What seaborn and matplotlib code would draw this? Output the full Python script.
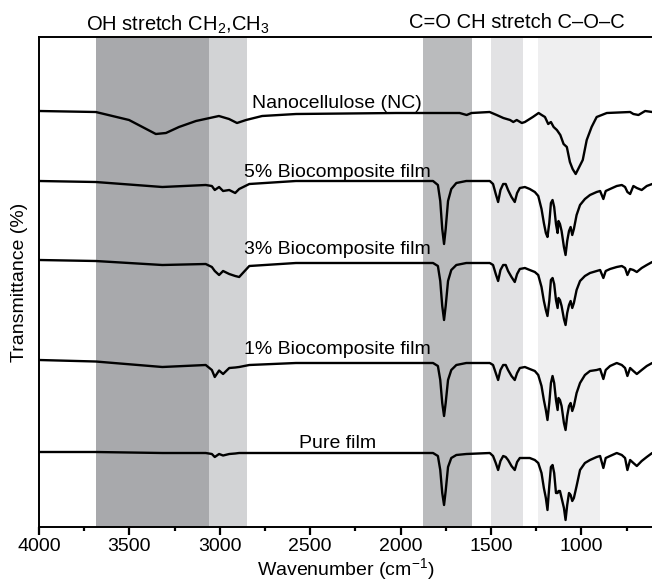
import pandas as pd
import seaborn as sns
import matplotlib.pyplot as plt
from matplotlib.ticker import MultipleLocator

# shaded assignment bands (cm-1)
band_lo = [3059, 2849, 1608, 1325, 898]
band_hi = [3686, 3059, 1879, 1502, 1242]
band_colors = ['#a8a9ac', '#d2d3d5', '#babbbd', '#e2e2e4', '#efeff0']

# common wavenumber grid of the film spectra
film_wn = [4000, 3687, 3318, 3078, 3044, 3028, 3004, 2982, 2948, 2915, 2893, 2837, 2579, 2006,
           1821, 1794, 1781, 1770, 1760, 1751, 1738, 1720, 1692, 1637,
           1507, 1489, 1474, 1461, 1448, 1433, 1419, 1406, 1387, 1369, 1356, 1341,
           1313, 1286, 1258, 1239, 1221, 1208, 1197, 1188, 1178, 1169, 1160, 1151,
           1141, 1132, 1127, 1119, 1110, 1097, 1088, 1079, 1069, 1060, 1051, 1042,
           1027, 1008, 981, 953, 916, 897, 879, 866, 842, 805, 777, 759, 746, 731,
           713, 694, 667, 639, 609]

film_5 = [0, -1, -6, -4, -5, -9, -6, -10, -9, -12, -8, -3, 0, 0,
          0, -4, -20, -48, -63, -48, -20, -8, -2, 0,
          0, -3, -13, -21, -9, -3, -3, -9, -16, -21, -12, -7,
          -6, -8, -11, -15, -28, -42, -52, -56, -42, -22, -19, -26,
          -43, -52, -40, -43, -50, -66, -74, -60, -50, -46, -54, -48,
          -34, -24, -18, -14, -11, -10, -18, -10, -8, -5, -4, -6, -11, -13,
          -5, -7, -9, -5, -3]

film_3 = [3, 2, -2, -1, -4, -8, -12, -8, -11, -13, -14, -3, 0, 0,
          0, -3, -18, -43, -57, -43, -18, -7, -2, 0,
          0, -2, -11, -18, -7, -2, -2, -8, -14, -19, -11, -6,
          -5, -7, -9, -12, -24, -38, -47, -53, -38, -17, -15, -21,
          -37, -45, -35, -37, -43, -56, -62, -50, -42, -38, -45, -40,
          -27, -18, -13, -10, -8, -7, -15, -8, -6, -4, -3, -5, -12, -6,
          -7, -9, -5, -2, 1]

film_1 = [3, 1.5, -4, -2, -7, -14, -7.5, -11, -5, -4.5, -4, -2, 0, 0,
          0, -3, -17, -40, -53, -40, -17, -7, -2, 0,
          0, -2, -10, -17, -7, -2, -2, -7, -13, -17, -10, -5,
          -4, -6, -8, -12, -23, -37, -47, -57, -40, -20, -13, -20,
          -37, -47, -35, -37, -43, -60, -67, -53, -43, -40, -48, -43,
          -30, -20, -12, -8, -7, -6, -16, -7, -3, 0, -2, -5, -13, -5,
          -8, -11, -7, -3, 0]

film_pure = [1, 1, 0, 0, -1, -4, -1, -2.5, -1, -0.5, 0, 0, 0, 0,
             0, -3, -17, -40, -52, -38, -14, -5, -2, -1,
             0, -3, -10, -17, -8, -3, -4, -7, -13, -17, -9, -5,
             -5, -5, -7, -10, -20, -35, -45, -57, -33, -14, -12, -20,
             -40, -40, -38, -38, -45, -55, -67, -52, -40, -42, -48, -45,
             -33, -17, -10, -7, -4, -3, -15, -5, -3, 0, -2, -5, -17, -7,
             -10, -13, -8, -4, 0]

# nanocellulose spectrum
nc_wn = [4000, 3686, 3502, 3354, 3298, 3226, 3132, 3005, 2949, 2905, 2855, 2766, 2578, 2024,
         1674, 1635, 1608, 1508, 1469, 1432, 1395, 1377, 1358, 1330, 1313, 1269, 1237, 1220,
         1202, 1184, 1169, 1154, 1136, 1117, 1099, 1081, 1064, 1049, 1032, 1018, 993, 971,
         944, 916, 860, 731, 713, 685, 648, 609]
nc_vals = [1, 0, -8, -22, -21, -15, -9, -4, -7, -11, -8, -4, -2, -1,
           -1, -3, -1, 0, -3, -6, -8, -10, -8, -11, -10, -5, -1, -3,
           -5, -12, -10, -15, -18, -23, -32, -35, -50, -57, -62, -57, -48, -28,
           -15, -5, -1, 0, -2, -3, 1, 0]

labels = ['Nanocellulose (NC)', '5% Biocomposite film', '3% Biocomposite film',
          '1% Biocomposite film', 'Pure film']
offsets = [415, 346, 264, 164, 74]

spectra = [(nc_wn, nc_vals), (film_wn, film_5), (film_wn, film_3),
           (film_wn, film_1), (film_wn, film_pure)]

sns.set_style('ticks')
plt.rcParams['font.family'] = ['Liberation Sans', 'DejaVu Sans']
plt.rcParams['mathtext.default'] = 'regular'
plt.rcParams['text.color'] = 'black'
plt.rcParams['axes.labelcolor'] = 'black'
plt.rcParams['xtick.color'] = 'black'

fig = plt.figure(figsize=(6.52, 5.82), dpi=100)
ax = fig.add_axes([39 / 652, 55 / 582, 613 / 652, 490 / 582])

for lo, hi, c in zip(band_lo, band_hi, band_colors):
    ax.axvspan(lo, hi, color=c, lw=0, zorder=0)

for (wn, vals), off in zip(spectra, offsets):
    df = pd.DataFrame({'wavenumber': wn, 'T': [v + off for v in vals]})
    sns.lineplot(data=df, x='wavenumber', y='T', ax=ax, color='black',
                 lw=1.7, estimator=None, sort=False, zorder=3)

label_y = [418.7, 349.7, 273, 173, 78.7]
for name, ly in zip(labels, label_y):
    ax.text(2350, ly, name, ha='center', va='baseline', fontsize=14, zorder=4)

ax.text(3234, 496, 'OH stretch CH$_2$,CH$_3$', ha='center', va='baseline', fontsize=14.5)
ax.text(1360, 499.5, 'C=O CH stretch C\u2013O\u2013C', ha='center', va='baseline', fontsize=14.5)

ax.set_xlim(4000, 610)
ax.set_ylim(0, 490)
ax.xaxis.set_major_locator(MultipleLocator(500))
ax.xaxis.set_minor_locator(MultipleLocator(250))
ax.set_yticks([])
ax.tick_params(axis='x', which='major', direction='out', length=5.5, width=1.6,
               labelsize=14, pad=2.5)
ax.tick_params(axis='x', which='minor', direction='out', length=3, width=1.6)

sns.despine(ax=ax, top=False, right=True)
for side in ['left', 'top', 'bottom']:
    ax.spines[side].set_linewidth(1.4)
    ax.spines[side].set_color('black')

ax.set_xlabel('Wavenumber (cm$^{-1}$)', fontsize=14, labelpad=0.5)
ax.set_ylabel('Transmittance (%)', fontsize=14, labelpad=8)

fig.savefig('out.png', dpi=100)
